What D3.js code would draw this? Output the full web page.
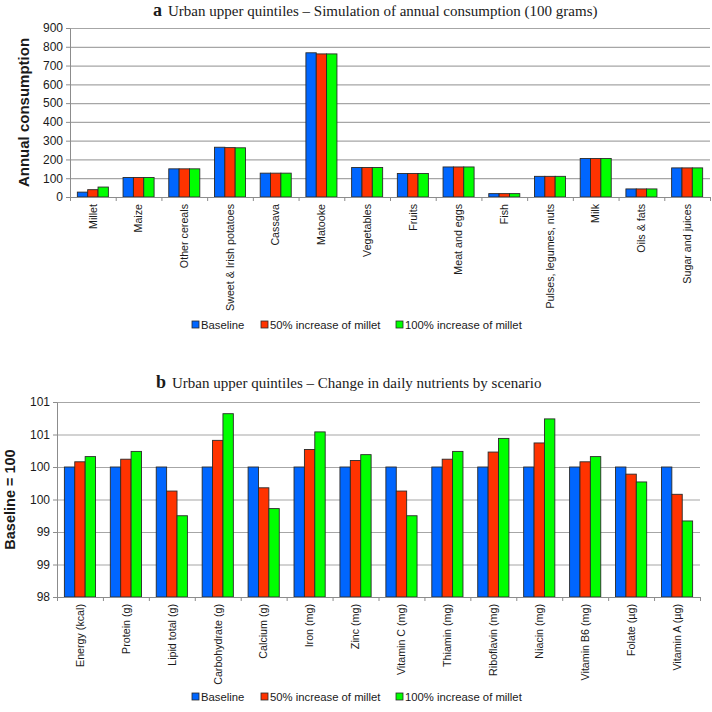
<!DOCTYPE html>
<html><head><meta charset="utf-8">
<script src="https://cdn.jsdelivr.net/npm/d3@7"></script>
<style>body{margin:0;background:#fff} svg{display:block}</style>
</head><body><svg id="c" width="712" height="712"></svg>
<script>
const seriesNames = ["Baseline", "50% increase of millet", "100% increase of millet"];
const seriesColors = ["#0066ff", "#ff3300", "#00ff00"];

const foodCategories = ["Millet", "Maize", "Other cereals", "Sweet & Irish potatoes", "Cassava", "Matooke", "Vegetables", "Fruits", "Meat and eggs", "Fish", "Pulses, legumes, nuts", "Milk", "Oils & fats", "Sugar and juices"];
const foodBaseline = [26, 104, 150, 265, 127, 768, 157, 125, 160, 18, 110, 205, 43, 155];
const food50 = [39, 104, 150, 263, 127, 762, 157, 125, 160, 18, 110, 205, 43, 155];
const food100 = [53, 104, 150, 262, 127, 762, 157, 125, 160, 18, 110, 205, 43, 155];
const foodTicks = [0, 100, 200, 300, 400, 500, 600, 700, 800, 900];

const nutrientCategories = ["Energy (kcal)", "Protein (g)", "Lipid total (g)", "Carbohydrate (g)", "Calcium (g)", "Iron (mg)", "Zinc (mg)", "Vitamin C (mg)", "Thiamin (mg)", "Riboflavin (mg)", "Niacin (mg)", "Vitamin B6 (mg)", "Folate (µg)", "Vitamin A (µg)"];
const nutBaseline = [100, 100, 100, 100, 100, 100, 100, 100, 100, 100, 100, 100, 100, 100];
const nut50 = [100.08, 100.12, 99.63, 100.41, 99.68, 100.27, 100.10, 99.63, 100.12, 100.23, 100.37, 100.08, 99.89, 99.58];
const nut100 = [100.16, 100.24, 99.25, 100.82, 99.36, 100.54, 100.19, 99.25, 100.24, 100.44, 100.74, 100.16, 99.77, 99.17];
const nutTicks = [98, 98.5, 99, 99.5, 100, 100.5, 101];
const nutTickLabels = ["98", "99", "99", "100", "100", "101", "101"];

const titleA = ["a", "Urban upper quintiles – Simulation of annual consumption (100 grams)"];
const titleB = ["b", "Urban upper quintiles – Change in daily nutrients by scenario"];
const yLabelA = "Annual consumption";
const yLabelB = "Baseline = 100";

const svg = d3.select("#c");
const GRID = "#a6a6a6", AXIS = "#8c8c8c", TXT = "#1a1a1a";
const SANS = "Liberation Sans, Arial, sans-serif";

function panel(cfg) {
  const g = svg.append("g");
  const x = d3.scaleBand().domain(cfg.cats).range([cfg.left, cfg.right]);
  const y = d3.scaleLinear().domain(cfg.domain).range([cfg.bottom, cfg.top]);
  const xs = d3.scaleBand().domain([0, 1, 2]).range([0, x.bandwidth()]).paddingOuter(0.71).paddingInner(0);
  // gridlines
  g.append("g").attr("transform", `translate(${cfg.left},0)`)
    .call(d3.axisLeft(y).tickValues(cfg.ticks).tickSize(-(cfg.right - cfg.left)).tickFormat(""))
    .call(s => s.select(".domain").remove())
    .call(s => s.selectAll("line").attr("stroke", GRID).attr("stroke-width", 1.2));
  // bars
  const data = cfg.cats.map((c, i) => ({ c, v: cfg.series.map(s => s[i]) }));
  const grp = g.append("g").selectAll("g").data(data).join("g")
    .attr("transform", d => `translate(${x(d.c)},0)`);
  grp.selectAll("rect").data(d => d.v.map((v, k) => ({ v, k }))).join("rect")
    .attr("x", d => xs(d.k)).attr("width", xs.bandwidth())
    .attr("y", d => y(d.v)).attr("height", d => cfg.bottom - y(d.v))
    .attr("fill", d => seriesColors[d.k]).attr("stroke", "#2a2a2a").attr("stroke-width", 0.9);
  // y axis
  g.append("g").attr("transform", `translate(${cfg.left},0)`)
    .call(d3.axisLeft(y).tickValues(cfg.ticks).tickSize(4).tickSizeOuter(0).tickPadding(3)
      .tickFormat((d, i) => cfg.tickLabels ? cfg.tickLabels[i] : d))
    .call(s => s.select(".domain").attr("stroke", AXIS))
    .call(s => s.selectAll("line").attr("stroke", AXIS))
    .call(s => s.selectAll("text").attr("fill", TXT).attr("font-family", SANS).attr("font-size", 12));
  // x axis boundary ticks
  const xb = d3.scaleLinear().domain([0, cfg.cats.length]).range([cfg.left, cfg.right]);
  g.append("g").attr("transform", `translate(0,${cfg.bottom})`)
    .call(d3.axisBottom(xb).tickValues(d3.range(cfg.cats.length + 1)).tickSize(4).tickSizeOuter(0).tickFormat(""))
    .call(s => s.select(".domain").attr("stroke", AXIS))
    .call(s => s.selectAll("line").attr("stroke", AXIS));
  // category labels
  g.append("g").attr("transform", `translate(0,${cfg.bottom})`)
    .call(d3.axisBottom(x).tickSize(0).tickPadding(0))
    .call(s => s.select(".domain").remove())
    .call(s => s.selectAll("text")
      .attr("font-family", SANS).attr("font-size", 10.7).attr("fill", TXT)
      .attr("text-anchor", "end").attr("y", 0).attr("x", 0).attr("dy", "0.35em")
      .attr("transform", "translate(0,7) rotate(-90)"));
  // y label
  g.append("text").attr("transform", `translate(${cfg.ylx},${(cfg.top + cfg.bottom) / 2}) rotate(-90)`)
    .attr("text-anchor", "middle").attr("font-family", SANS)
    .attr("font-weight", "bold").attr("font-size", cfg.ylSize).attr("fill", TXT).text(cfg.ylabel);
  // title
  const t = g.append("text").attr("x", cfg.titleX).attr("y", cfg.titleY)
    .attr("font-family", "Liberation Serif, Times New Roman, serif").attr("fill", TXT);
  t.append("tspan").attr("font-weight", "bold").attr("font-size", 18).text(cfg.title[0]);
  t.append("tspan").attr("font-size", 15).attr("dx", 6).text(cfg.title[1]);
  // legend
  const lg = g.append("g").attr("transform", `translate(0,${cfg.legendY})`);
  const lx = cfg.legendX;
  seriesNames.forEach((n, k) => {
    lg.append("rect").attr("x", lx[k]).attr("y", -4).attr("width", 7).attr("height", 7)
      .attr("fill", seriesColors[k]).attr("stroke", "#2a2a2a").attr("stroke-width", 0.8);
    lg.append("text").attr("x", lx[k] + 9).attr("y", 0).attr("dy", "0.35em")
      .attr("font-family", SANS).attr("font-size", 11.3).attr("fill", TXT).text(n);
  });
}

panel({
  cats: foodCategories, series: [foodBaseline, food50, food100], domain: [0, 900], ticks: foodTicks,
  left: 70, right: 710, top: 28, bottom: 197, ylabel: yLabelA, ylx: 29, ylSize: 15,
  title: titleA, titleX: 153, titleY: 16, legendY: 325, legendX: [192, 261, 396]
});
panel({
  cats: nutrientCategories, series: [nutBaseline, nut50, nut100], domain: [98, 101], ticks: nutTicks, tickLabels: nutTickLabels,
  left: 57, right: 700, top: 402, bottom: 597, ylabel: yLabelB, ylx: 15, ylSize: 14.5,
  title: titleB, titleX: 156, titleY: 388, legendY: 697, legendX: [192, 261, 396]
});
</script></body></html>
